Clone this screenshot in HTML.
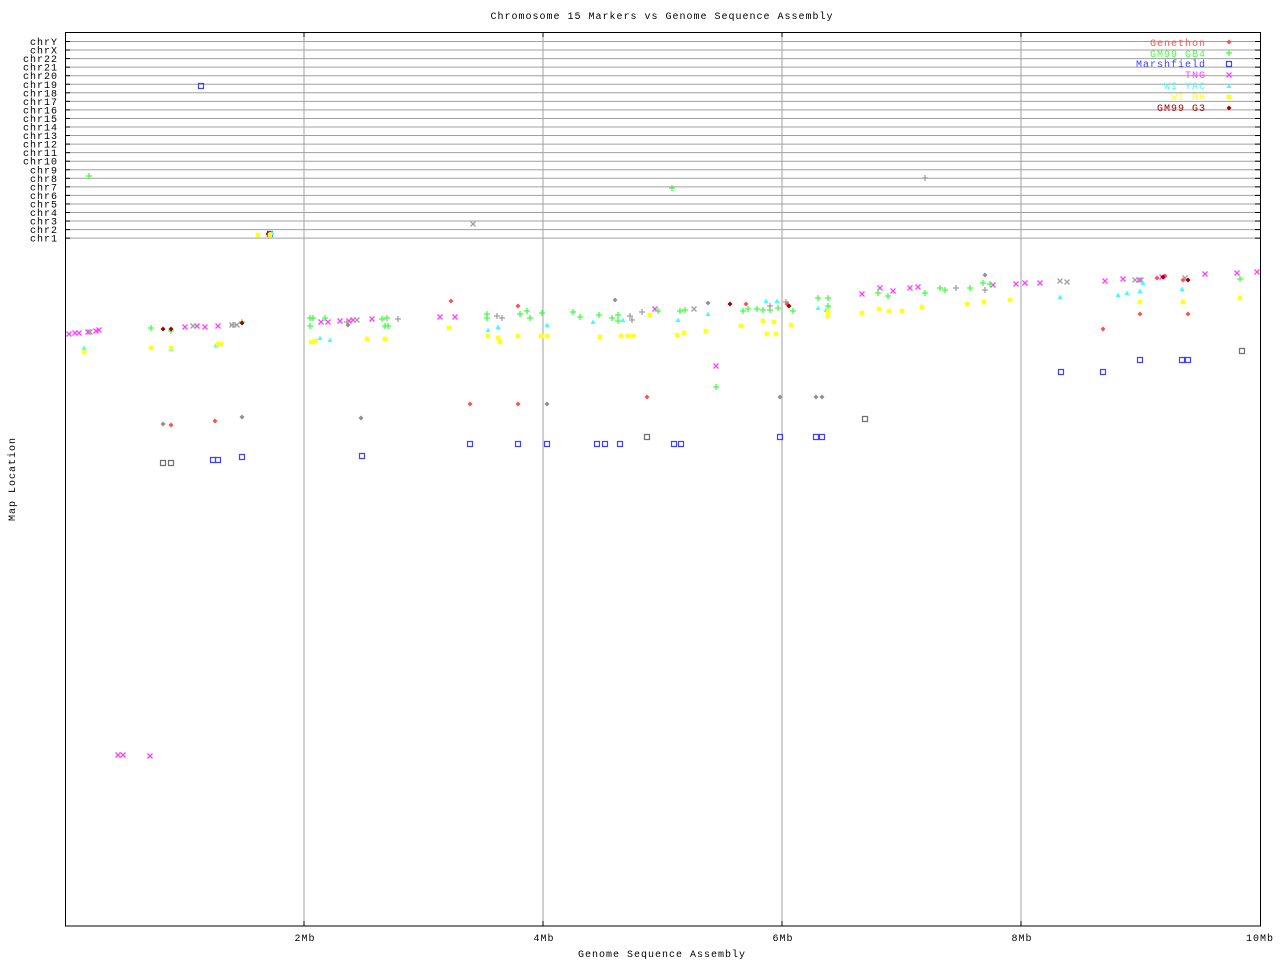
<!DOCTYPE html>
<html><head><meta charset="utf-8"><style>
html,body{margin:0;padding:0;background:#fff;}
svg{display:block;font-family:"Liberation Mono","DejaVu Sans Mono",monospace;letter-spacing:1px;}
</style></head><body>
<svg width="1280" height="960" viewBox="0 0 1280 960" xmlns="http://www.w3.org/2000/svg" xmlns:xlink="http://www.w3.org/1999/xlink">
<defs>
<path id="d" d="M0,-2.5L2.5,0L0,2.5L-2.5,0Z"/>
<path id="p" d="M-3,0H3M0,-3V3" fill="none"/>
<path id="s" d="M-2.5,-2.5H2.5V2.5H-2.5Z" fill="none"/>
<path id="x" d="M-2.5,-2.5L2.5,2.5M-2.5,2.5L2.5,-2.5" fill="none"/>
<path id="t" d="M0,-2.5L2.5,2L-2.5,2Z"/>
<path id="r" d="M-2.5,0H2.5M0,-2.5V2.5M-2,-2L2,2M-2,2L2,-2" fill="none"/>
</defs>
<text x="662" y="19" font-size="10" text-anchor="middle">Chromosome 15 Markers vs Genome Sequence Assembly</text>
<g stroke="#a0a0a0" stroke-width="1">
<line x1="304" y1="32" x2="304" y2="926"/><line x1="543" y1="32" x2="543" y2="926"/><line x1="782" y1="32" x2="782" y2="926"/><line x1="1021" y1="32" x2="1021" y2="926"/>
</g>
<g id="hl" stroke="#a0a0a0"></g>
<g font-size="10" text-anchor="end" id="yl"></g>
<script>
(function(){var n=["chrY","chrX","chr22","chr21","chr20","chr19","chr18","chr17","chr16","chr15","chr14","chr13","chr12","chr11","chr10","chr9","chr8","chr7","chr6","chr5","chr4","chr3","chr2","chr1"];
var ns="http://www.w3.org/2000/svg",hl=document.getElementById("hl"),yl=document.getElementById("yl");
for(var i=0;i<24;i++){var y=41.5+i*8.55;var l=document.createElementNS(ns,"line");l.setAttribute("x1",65);l.setAttribute("x2",1260);l.setAttribute("y1",y);l.setAttribute("y2",y);hl.appendChild(l);
var k=document.createElementNS(ns,"line");k.setAttribute("x1",65);k.setAttribute("x2",70);k.setAttribute("y1",y);k.setAttribute("y2",y);k.setAttribute("stroke","#000");hl.appendChild(k);
var k2=document.createElementNS(ns,"line");k2.setAttribute("x1",1255);k2.setAttribute("x2",1260);k2.setAttribute("y1",y);k2.setAttribute("y2",y);k2.setAttribute("stroke","#000");hl.appendChild(k2);
var t=document.createElementNS(ns,"text");t.setAttribute("x",58);t.setAttribute("y",y+3.5);t.textContent=n[i];yl.appendChild(t);}})();
</script>
<rect x="65.5" y="32.5" width="1195" height="893.5" fill="none" stroke="#000" stroke-width="1"/>
<g stroke="#000"><line x1="304" y1="921" x2="304" y2="926"/><line x1="543" y1="921" x2="543" y2="926"/><line x1="782" y1="921" x2="782" y2="926"/><line x1="1021" y1="921" x2="1021" y2="926"/><line x1="304" y1="32" x2="304" y2="37"/><line x1="543" y1="32" x2="543" y2="37"/><line x1="782" y1="32" x2="782" y2="37"/><line x1="1021" y1="32" x2="1021" y2="37"/></g>
<g font-size="10" text-anchor="middle">
<text x="305" y="941">2Mb</text><text x="544" y="941">4Mb</text><text x="783" y="941">6Mb</text><text x="1022" y="941">8Mb</text><text x="1260" y="941">10Mb</text>
<text x="662" y="957">Genome Sequence Assembly</text>
<text transform="translate(15,479) rotate(-90)">Map Location</text>
</g>
<g font-size="10" text-anchor="end">
<text x="1206" y="46" fill="#ff5050">Genethon</text>
<text x="1206" y="57" fill="#40ff40">GM99 GB4</text>
<text x="1206" y="67" fill="#4040ff">Marshfield</text>
<text x="1206" y="78" fill="#ff40ff">TNG</text>
<text x="1206" y="89" fill="#40ffff">WI YAC</text>
<text x="1206" y="100" fill="#ffff20">WI RH</text>
<text x="1206" y="111" fill="#a00000">GM99 G3</text>
</g>

<!-- TNG x -->
<g stroke="#ff40ff" stroke-width="1.3">
<use xlink:href="#x" href="#x" x="1229" y="75"/>
<use xlink:href="#x" href="#x" x="69" y="334"/><use xlink:href="#x" href="#x" x="75" y="333"/><use xlink:href="#x" href="#x" x="79" y="333"/><use xlink:href="#x" href="#x" x="88" y="332"/><use xlink:href="#x" href="#x" x="96" y="331"/><use xlink:href="#x" href="#x" x="99" y="330"/>
<use xlink:href="#x" href="#x" x="185" y="327"/><use xlink:href="#x" href="#x" x="197" y="326"/><use xlink:href="#x" href="#x" x="205" y="327"/><use xlink:href="#x" href="#x" x="218" y="326"/>
<use xlink:href="#x" href="#x" x="321" y="322"/><use xlink:href="#x" href="#x" x="328" y="322"/><use xlink:href="#x" href="#x" x="340" y="321"/><use xlink:href="#x" href="#x" x="349" y="321"/><use xlink:href="#x" href="#x" x="353" y="320"/><use xlink:href="#x" href="#x" x="372" y="319"/>
<use xlink:href="#x" href="#x" x="440" y="317"/><use xlink:href="#x" href="#x" x="455" y="317"/><use xlink:href="#x" href="#x" x="655" y="309"/><use xlink:href="#x" href="#x" x="716" y="366"/>
<use xlink:href="#x" href="#x" x="862" y="294"/><use xlink:href="#x" href="#x" x="880" y="288"/><use xlink:href="#x" href="#x" x="893" y="291"/><use xlink:href="#x" href="#x" x="910" y="288"/><use xlink:href="#x" href="#x" x="918" y="287"/>
<use xlink:href="#x" href="#x" x="993" y="285"/><use xlink:href="#x" href="#x" x="1016" y="284"/><use xlink:href="#x" href="#x" x="1025" y="283"/><use xlink:href="#x" href="#x" x="1040" y="283"/><use xlink:href="#x" href="#x" x="1105" y="281"/>
<use xlink:href="#x" href="#x" x="1123" y="279"/><use xlink:href="#x" href="#x" x="1139" y="280"/><use xlink:href="#x" href="#x" x="1162" y="277"/><use xlink:href="#x" href="#x" x="1205" y="274"/><use xlink:href="#x" href="#x" x="1237" y="273"/><use xlink:href="#x" href="#x" x="1257" y="272"/>
<use xlink:href="#x" href="#x" x="118" y="755"/><use xlink:href="#x" href="#x" x="123" y="755"/><use xlink:href="#x" href="#x" x="150" y="756"/>
</g>
<g stroke="#a0a0a0" stroke-width="1.3">
<use xlink:href="#x" href="#x" x="90" y="332"/><use xlink:href="#x" href="#x" x="193" y="326"/><use xlink:href="#x" href="#x" x="232" y="325"/><use xlink:href="#x" href="#x" x="237" y="325"/><use xlink:href="#x" href="#x" x="357" y="320"/>
<use xlink:href="#x" href="#x" x="473" y="224"/><use xlink:href="#x" href="#x" x="694" y="309"/><use xlink:href="#x" href="#x" x="1060" y="281"/><use xlink:href="#x" href="#x" x="1067" y="282"/><use xlink:href="#x" href="#x" x="1135" y="280"/><use xlink:href="#x" href="#x" x="1141" y="280"/><use xlink:href="#x" href="#x" x="1185" y="278"/>
</g>

<!-- GB4 + -->
<g stroke="#40ff40" stroke-width="1.3">
<use xlink:href="#p" href="#p" x="1229" y="53"/>
<use xlink:href="#p" href="#p" x="89" y="176"/><use xlink:href="#p" href="#p" x="151" y="328"/><use xlink:href="#p" href="#p" x="171" y="331"/><use xlink:href="#p" href="#p" x="242" y="322"/>
<use xlink:href="#p" href="#p" x="310" y="318"/><use xlink:href="#p" href="#p" x="310" y="326"/><use xlink:href="#p" href="#p" x="313" y="318"/><use xlink:href="#p" href="#p" x="325" y="318"/>
<use xlink:href="#p" href="#p" x="382" y="319"/><use xlink:href="#p" href="#p" x="385" y="326"/><use xlink:href="#p" href="#p" x="387" y="318"/><use xlink:href="#p" href="#p" x="388" y="326"/>
<use xlink:href="#p" href="#p" x="487" y="314"/><use xlink:href="#p" href="#p" x="487" y="318"/><use xlink:href="#p" href="#p" x="520" y="314"/><use xlink:href="#p" href="#p" x="527" y="311"/><use xlink:href="#p" href="#p" x="530" y="318"/><use xlink:href="#p" href="#p" x="542" y="313"/>
<use xlink:href="#p" href="#p" x="573" y="312"/><use xlink:href="#p" href="#p" x="580" y="317"/><use xlink:href="#p" href="#p" x="599" y="315"/><use xlink:href="#p" href="#p" x="612" y="318"/><use xlink:href="#p" href="#p" x="618" y="315"/><use xlink:href="#p" href="#p" x="618" y="321"/>
<use xlink:href="#p" href="#p" x="658" y="311"/><use xlink:href="#p" href="#p" x="672" y="188"/><use xlink:href="#p" href="#p" x="680" y="311"/><use xlink:href="#p" href="#p" x="685" y="310"/><use xlink:href="#p" href="#p" x="716" y="387"/>
<use xlink:href="#p" href="#p" x="743" y="311"/><use xlink:href="#p" href="#p" x="748" y="309"/><use xlink:href="#p" href="#p" x="757" y="309"/><use xlink:href="#p" href="#p" x="763" y="310"/><use xlink:href="#p" href="#p" x="770" y="310"/><use xlink:href="#p" href="#p" x="778" y="308"/><use xlink:href="#p" href="#p" x="793" y="311"/>
<use xlink:href="#p" href="#p" x="818" y="298"/><use xlink:href="#p" href="#p" x="828" y="298"/><use xlink:href="#p" href="#p" x="828" y="306"/><use xlink:href="#p" href="#p" x="878" y="293"/><use xlink:href="#p" href="#p" x="888" y="296"/>
<use xlink:href="#p" href="#p" x="925" y="293"/><use xlink:href="#p" href="#p" x="940" y="288"/><use xlink:href="#p" href="#p" x="945" y="290"/><use xlink:href="#p" href="#p" x="970" y="288"/><use xlink:href="#p" href="#p" x="983" y="283"/><use xlink:href="#p" href="#p" x="990" y="284"/><use xlink:href="#p" href="#p" x="1240" y="279"/>
</g>
<g stroke="#a0a0a0" stroke-width="1.3">
<use xlink:href="#p" href="#p" x="925" y="178"/><use xlink:href="#p" href="#p" x="233" y="325"/><use xlink:href="#p" href="#p" x="347" y="322"/><use xlink:href="#p" href="#p" x="398" y="319"/>
<use xlink:href="#p" href="#p" x="497" y="316"/><use xlink:href="#p" href="#p" x="502" y="318"/><use xlink:href="#p" href="#p" x="630" y="316"/><use xlink:href="#p" href="#p" x="632" y="320"/><use xlink:href="#p" href="#p" x="642" y="312"/>
<use xlink:href="#p" href="#p" x="770" y="306"/><use xlink:href="#p" href="#p" x="786" y="302"/><use xlink:href="#p" href="#p" x="956" y="288"/><use xlink:href="#p" href="#p" x="985" y="290"/>
</g>

<!-- Marshfield squares -->
<g stroke="#4040ff" stroke-width="1.2">
<use xlink:href="#s" href="#s" x="1229" y="64"/>
<use xlink:href="#s" href="#s" x="201" y="86"/><use xlink:href="#s" href="#s" x="270" y="234"/><use xlink:href="#s" href="#s" x="242" y="457"/><use xlink:href="#s" href="#s" x="218" y="460"/><use xlink:href="#s" href="#s" x="213" y="460"/><use xlink:href="#s" href="#s" x="362" y="456"/>
<use xlink:href="#s" href="#s" x="470" y="444"/><use xlink:href="#s" href="#s" x="518" y="444"/><use xlink:href="#s" href="#s" x="547" y="444"/><use xlink:href="#s" href="#s" x="597" y="444"/><use xlink:href="#s" href="#s" x="605" y="444"/><use xlink:href="#s" href="#s" x="620" y="444"/>
<use xlink:href="#s" href="#s" x="674" y="444"/><use xlink:href="#s" href="#s" x="681" y="444"/><use xlink:href="#s" href="#s" x="780" y="437"/><use xlink:href="#s" href="#s" x="816" y="437"/><use xlink:href="#s" href="#s" x="822" y="437"/>
<use xlink:href="#s" href="#s" x="1061" y="372"/><use xlink:href="#s" href="#s" x="1103" y="372"/><use xlink:href="#s" href="#s" x="1140" y="360"/><use xlink:href="#s" href="#s" x="1182" y="360"/><use xlink:href="#s" href="#s" x="1188" y="360"/>
</g>
<g stroke="#707070" stroke-width="1.2">
<use xlink:href="#s" href="#s" x="163" y="463"/><use xlink:href="#s" href="#s" x="171" y="463"/><use xlink:href="#s" href="#s" x="647" y="437"/><use xlink:href="#s" href="#s" x="865" y="419"/><use xlink:href="#s" href="#s" x="1242" y="351"/>
</g>

<!-- diamonds -->
<g fill="#ff5050">
<use xlink:href="#d" href="#d" x="1229" y="42"/>
<use xlink:href="#d" href="#d" x="171" y="425"/><use xlink:href="#d" href="#d" x="215" y="421"/><use xlink:href="#d" href="#d" x="470" y="404"/><use xlink:href="#d" href="#d" x="518" y="404"/><use xlink:href="#d" href="#d" x="647" y="397"/>
<use xlink:href="#d" href="#d" x="1103" y="329"/><use xlink:href="#d" href="#d" x="1140" y="314"/><use xlink:href="#d" href="#d" x="1188" y="314"/><use xlink:href="#d" href="#d" x="451" y="301"/><use xlink:href="#d" href="#d" x="518" y="306"/>
<use xlink:href="#d" href="#d" x="746" y="304"/><use xlink:href="#d" href="#d" x="787" y="304"/><use xlink:href="#d" href="#d" x="1157" y="278"/><use xlink:href="#d" href="#d" x="1165" y="276"/><use xlink:href="#d" href="#d" x="1183" y="280"/>
</g>
<g fill="#909090">
<use xlink:href="#d" href="#d" x="163" y="424"/><use xlink:href="#d" href="#d" x="242" y="417"/><use xlink:href="#d" href="#d" x="361" y="418"/><use xlink:href="#d" href="#d" x="547" y="404"/><use xlink:href="#d" href="#d" x="780" y="397"/>
<use xlink:href="#d" href="#d" x="816" y="397"/><use xlink:href="#d" href="#d" x="822" y="397"/><use xlink:href="#d" href="#d" x="615" y="300"/><use xlink:href="#d" href="#d" x="708" y="303"/><use xlink:href="#d" href="#d" x="985" y="275"/><use xlink:href="#d" href="#d" x="348" y="325"/>
</g>
<g fill="#a00000">
<use xlink:href="#d" href="#d" x="1229" y="108"/>
<use xlink:href="#d" href="#d" x="163" y="329"/><use xlink:href="#d" href="#d" x="171" y="329"/><use xlink:href="#d" href="#d" x="242" y="323"/><use xlink:href="#d" href="#d" x="268" y="234"/>
<use xlink:href="#d" href="#d" x="730" y="304"/><use xlink:href="#d" href="#d" x="789" y="306"/><use xlink:href="#d" href="#d" x="1163" y="277"/><use xlink:href="#d" href="#d" x="1188" y="280"/>
</g>

<!-- WI YAC triangles -->
<g fill="#40ffff">
<use xlink:href="#t" href="#t" x="1229" y="86"/>
<use xlink:href="#t" href="#t" x="84" y="348"/><use xlink:href="#t" href="#t" x="171" y="349"/><use xlink:href="#t" href="#t" x="216" y="345"/><use xlink:href="#t" href="#t" x="272" y="233"/><use xlink:href="#t" href="#t" x="320" y="338"/><use xlink:href="#t" href="#t" x="330" y="340"/>
<use xlink:href="#t" href="#t" x="488" y="330"/><use xlink:href="#t" href="#t" x="498" y="327"/><use xlink:href="#t" href="#t" x="547" y="325"/><use xlink:href="#t" href="#t" x="593" y="322"/><use xlink:href="#t" href="#t" x="623" y="320"/><use xlink:href="#t" href="#t" x="678" y="320"/>
<use xlink:href="#t" href="#t" x="708" y="314"/><use xlink:href="#t" href="#t" x="766" y="301"/><use xlink:href="#t" href="#t" x="777" y="301"/><use xlink:href="#t" href="#t" x="818" y="308"/><use xlink:href="#t" href="#t" x="826" y="310"/>
<use xlink:href="#t" href="#t" x="1060" y="297"/><use xlink:href="#t" href="#t" x="1118" y="295"/><use xlink:href="#t" href="#t" x="1127" y="293"/><use xlink:href="#t" href="#t" x="1140" y="291"/><use xlink:href="#t" href="#t" x="1182" y="289"/><use xlink:href="#t" href="#t" x="1143" y="283"/>
</g>

<!-- WI RH stars -->
<g stroke="#ffff20" stroke-width="1.5">
<use xlink:href="#r" href="#r" x="1229" y="97"/>
<use xlink:href="#r" href="#r" x="84" y="352"/><use xlink:href="#r" href="#r" x="151" y="348"/><use xlink:href="#r" href="#r" x="171" y="348"/><use xlink:href="#r" href="#r" x="218" y="344"/><use xlink:href="#r" href="#r" x="221" y="344"/><use xlink:href="#r" href="#r" x="258" y="235"/><use xlink:href="#r" href="#r" x="270" y="235"/>
<use xlink:href="#r" href="#r" x="311" y="342"/><use xlink:href="#r" href="#r" x="315" y="341"/><use xlink:href="#r" href="#r" x="367" y="339"/><use xlink:href="#r" href="#r" x="385" y="339"/><use xlink:href="#r" href="#r" x="449" y="328"/>
<use xlink:href="#r" href="#r" x="488" y="336"/><use xlink:href="#r" href="#r" x="498" y="338"/><use xlink:href="#r" href="#r" x="500" y="342"/><use xlink:href="#r" href="#r" x="518" y="336"/><use xlink:href="#r" href="#r" x="541" y="336"/><use xlink:href="#r" href="#r" x="547" y="336"/>
<use xlink:href="#r" href="#r" x="600" y="337"/><use xlink:href="#r" href="#r" x="621" y="336"/><use xlink:href="#r" href="#r" x="628" y="336"/><use xlink:href="#r" href="#r" x="633" y="336"/><use xlink:href="#r" href="#r" x="650" y="315"/>
<use xlink:href="#r" href="#r" x="677" y="335"/><use xlink:href="#r" href="#r" x="684" y="333"/><use xlink:href="#r" href="#r" x="706" y="331"/><use xlink:href="#r" href="#r" x="741" y="326"/><use xlink:href="#r" href="#r" x="763" y="321"/>
<use xlink:href="#r" href="#r" x="767" y="334"/><use xlink:href="#r" href="#r" x="774" y="322"/><use xlink:href="#r" href="#r" x="776" y="334"/><use xlink:href="#r" href="#r" x="791" y="325"/><use xlink:href="#r" href="#r" x="828" y="316"/><use xlink:href="#r" href="#r" x="828" y="312"/>
<use xlink:href="#r" href="#r" x="862" y="313"/><use xlink:href="#r" href="#r" x="879" y="309"/><use xlink:href="#r" href="#r" x="889" y="311"/><use xlink:href="#r" href="#r" x="902" y="311"/><use xlink:href="#r" href="#r" x="922" y="307"/>
<use xlink:href="#r" href="#r" x="967" y="304"/><use xlink:href="#r" href="#r" x="984" y="302"/><use xlink:href="#r" href="#r" x="1010" y="300"/><use xlink:href="#r" href="#r" x="1140" y="302"/><use xlink:href="#r" href="#r" x="1183" y="302"/><use xlink:href="#r" href="#r" x="1240" y="298"/>
</g>
</svg>
</body></html>
